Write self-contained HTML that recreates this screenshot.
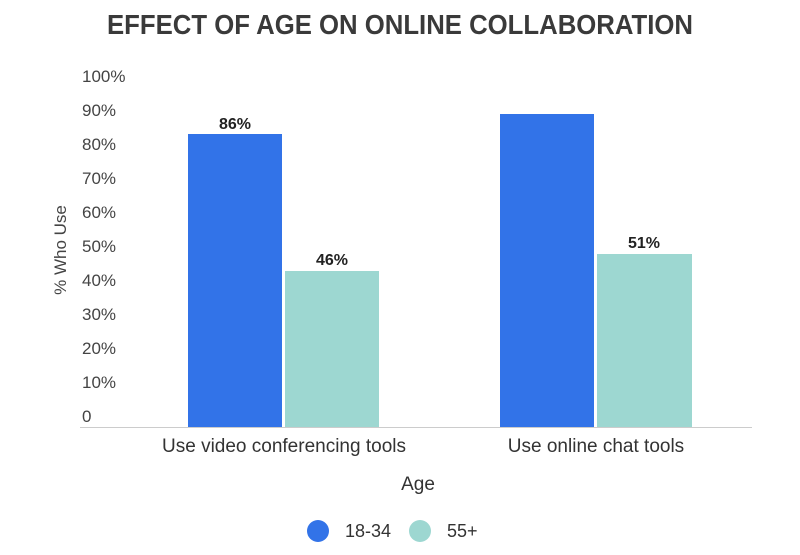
<!DOCTYPE html>
<html><head><style>body{margin:0;background:#fff}svg{display:block}</style></head><body>
<svg width="800" height="555" xmlns="http://www.w3.org/2000/svg" font-family="Liberation Sans, sans-serif">
<text x="107" y="34" textLength="586" lengthAdjust="spacingAndGlyphs" font-size="28" font-weight="bold" fill="#3a3a3a">EFFECT OF AGE ON ONLINE COLLABORATION</text>
<g font-size="17" fill="#444">
<text x="82" y="82">100%</text><text x="82" y="116">90%</text><text x="82" y="150">80%</text>
<text x="82" y="184">70%</text><text x="82" y="218">60%</text><text x="82" y="252">50%</text>
<text x="82" y="286">40%</text><text x="82" y="320">30%</text><text x="82" y="354">20%</text>
<text x="82" y="388">10%</text><text x="82" y="422">0</text>
</g>
<text transform="translate(66,250) rotate(-90)" text-anchor="middle" font-size="17" fill="#444">% Who Use</text>
<rect x="188" y="134" width="94" height="293" fill="#3273e8"/>
<rect x="285" y="271" width="94" height="156" fill="#9dd7d1"/>
<rect x="500" y="114" width="94" height="313" fill="#3273e8"/>
<rect x="597" y="254" width="95" height="173" fill="#9dd7d1"/>
<line x1="80" y1="427.5" x2="752" y2="427.5" stroke="#ccc"/>
<g font-size="16" font-weight="bold" fill="#222" text-anchor="middle">
<text x="235" y="129">86%</text><text x="332" y="265">46%</text><text x="644" y="248">51%</text>
</g>
<g font-size="19" fill="#333" text-anchor="middle">
<text x="284" y="452">Use video conferencing tools</text>
<text x="596" y="452">Use online chat tools</text>
<text x="418" y="490">Age</text>
</g>
<circle cx="318" cy="531" r="11" fill="#3273e8"/>
<text x="345" y="537" font-size="18" fill="#333">18-34</text>
<circle cx="420" cy="531" r="11" fill="#9dd7d1"/>
<text x="447" y="537" font-size="18" fill="#333">55+</text>
</svg>
</body></html>
